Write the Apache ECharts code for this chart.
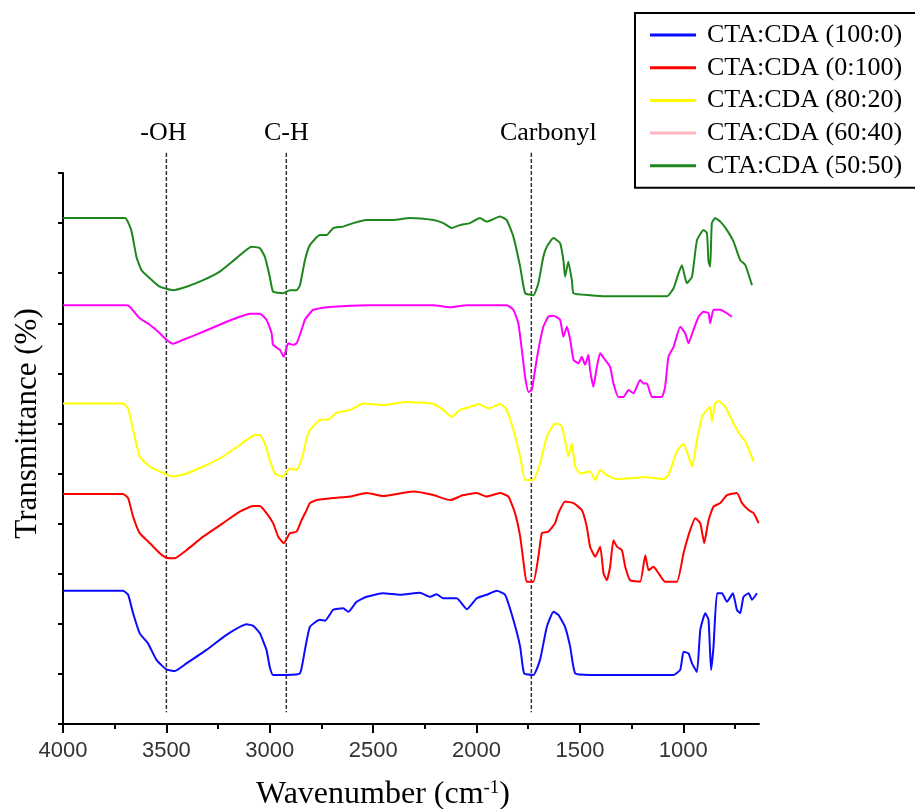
<!DOCTYPE html>
<html>
<head>
<meta charset="utf-8">
<title>FTIR CTA:CDA</title>
<script src="https://cdn.jsdelivr.net/npm/echarts@6/dist/echarts.min.js"></script>
<style>
  html, body { margin: 0; padding: 0; background: #fff; }
  #main { width: 915px; height: 809px; }
</style>
</head>
<body>
<div id="main"></div>
<script>
// [wavenumber (cm-1), transmittance (stacked, no scale shown)]
var cta100 = [[4000,26.6],[3710,26.6],[3685,25.8],[3661,22.1],[3629,18.1],[3589,16.1],[3548,12.8],[3500,10.9],[3459,10.6],[3403,12.1],[3306,14.8],[3209,17.8],[3112,19.9],[3080,19.6],[3048,18.1],[3016,14.8],[3000,11.4],[2984,9.8],[2919,9.8],[2854,10.1],[2830,14.8],[2806,19.4],[2758,20.8],[2733,20.6],[2693,22.8],[2645,23.1],[2620,22.4],[2580,24.4],[2532,25.4],[2451,26.1],[2370,25.8],[2274,26.2],[2225,25.4],[2193,25.9],[2161,25.1],[2096,25.1],[2047,22.9],[1999,25.1],[1951,25.8],[1902,26.6],[1862,25.8],[1822,20.8],[1789,15.4],[1770,10.1],[1725,9.8],[1693,12.8],[1660,19.4],[1628,22.4],[1604,21.8],[1572,19.4],[1547,15.4],[1523,10.1],[1451,9.8],[1047,9.8],[1015,10.8],[999,14.4],[975,14.1],[958,12.1],[934,10.4],[918,18.8],[894,22.1],[878,20.8],[866,10.8],[854,15.4],[837,26.1],[813,26.1],[789,24.4],[760,26.1],[741,22.8],[725,22.1],[709,25.4],[684,26.1],[668,24.8],[644,26.1]];

var cda100 = [[4000,45.9],[3710,45.9],[3685,45.1],[3661,41.4],[3629,38.1],[3580,36.1],[3532,34.1],[3500,33.2],[3459,33.1],[3403,34.7],[3322,37.4],[3226,40.1],[3145,42.4],[3080,43.5],[3048,43.5],[3016,42.1],[2984,40.1],[2959,37.4],[2932,36.1],[2903,38.1],[2870,38.4],[2846,40.7],[2822,42.7],[2806,44.1],[2773,44.7],[2693,45.1],[2612,45.4],[2532,46.1],[2451,45.5],[2306,46.4],[2209,45.7],[2128,44.7],[2064,45.7],[1999,46.1],[1951,45.4],[1886,46.1],[1846,45.4],[1814,42.1],[1789,37.4],[1770,31.4],[1758,28.4],[1725,28.4],[1701,33.4],[1684,38.1],[1653,38.4],[1620,40.1],[1604,42.1],[1572,44.4],[1531,44.1],[1491,42.7],[1467,39.4],[1451,35.4],[1426,33.4],[1402,35.4],[1386,30.1],[1370,28.7],[1354,31.4],[1338,36.7],[1321,35.4],[1297,34.7],[1281,31.4],[1257,28.7],[1209,28.4],[1184,33.7],[1168,30.7],[1144,31.4],[1120,30.1],[1088,28.4],[1031,28.4],[999,34.1],[967,38.7],[942,41.1],[918,40.1],[899,36.1],[878,40.7],[854,43.4],[821,44.1],[789,45.7],[741,46.1],[716,44.1],[684,42.7],[660,42.1],[636,40.1]];

var mix8020 = [[4000,64.0],[3710,64.0],[3685,63.0],[3661,58.7],[3629,53.4],[3580,51.4],[3532,50.4],[3468,49.4],[3403,50.0],[3306,51.7],[3226,53.4],[3145,55.7],[3072,57.7],[3048,57.7],[3024,56.0],[3000,52.7],[2975,50.0],[2938,49.4],[2903,51.0],[2870,50.7],[2854,52.0],[2838,54.0],[2822,57.0],[2806,58.7],[2790,59.4],[2758,60.7],[2717,60.8],[2677,62.1],[2612,62.7],[2548,64.0],[2451,63.7],[2338,64.3],[2209,63.9],[2161,62.7],[2120,61.3],[2080,62.7],[2032,63.3],[1991,63.9],[1943,63.0],[1886,63.9],[1854,62.7],[1822,58.7],[1789,53.4],[1765,48.7],[1725,48.7],[1693,52.0],[1660,57.4],[1628,59.7],[1620,60.0],[1596,59.7],[1588,59.4],[1572,56.7],[1556,53.4],[1539,56.0],[1523,51.4],[1499,50.0],[1451,50.4],[1426,48.7],[1402,50.7],[1370,49.7],[1321,48.9],[1241,49.1],[1193,49.3],[1096,48.9],[1072,49.7],[1031,54.4],[999,56.0],[958,51.4],[934,56.7],[910,61.3],[886,62.7],[870,63.3],[862,60.4],[846,64.0],[830,64.5],[797,63.3],[757,60.0],[725,57.7],[700,56.4],[660,52.4]];

var mix6040 = [[4000,83.6],[3693,83.6],[3677,83.3],[3629,81.0],[3580,79.7],[3532,78.0],[3500,76.7],[3468,75.9],[3419,76.7],[3322,78.3],[3226,80.0],[3145,81.3],[3096,81.9],[3048,81.9],[3016,80.7],[2991,78.0],[2984,75.7],[2951,74.7],[2932,73.3],[2911,76.0],[2887,75.7],[2870,76.0],[2846,78.7],[2830,80.7],[2806,82.0],[2790,82.7],[2693,83.3],[2532,83.6],[2209,83.6],[2128,83.2],[2047,83.6],[1854,83.6],[1822,82.7],[1798,80.0],[1781,74.7],[1765,69.3],[1749,66.3],[1733,66.7],[1717,70.7],[1701,74.7],[1677,79.3],[1653,81.3],[1628,81.5],[1596,80.7],[1580,77.3],[1563,79.3],[1547,76.7],[1531,72.7],[1507,72.0],[1491,73.3],[1475,71.7],[1459,73.7],[1451,70.7],[1435,67.3],[1418,71.3],[1402,74.0],[1378,72.7],[1354,71.3],[1338,68.0],[1314,65.3],[1289,65.3],[1265,66.7],[1241,66.0],[1209,68.7],[1193,68.0],[1176,68.0],[1152,65.3],[1104,65.3],[1088,67.3],[1072,73.3],[1047,75.3],[1015,79.3],[991,78.0],[975,76.0],[951,78.7],[926,81.3],[902,82.3],[878,82.0],[870,80.0],[854,82.7],[821,82.7],[765,81.3]];

var mix5050 = [[4000,101.0],[3700,101.0],[3670,98.6],[3645,93.3],[3620,90.6],[3580,89.0],[3532,87.3],[3468,86.6],[3403,87.3],[3322,88.6],[3242,90.3],[3161,93.0],[3088,95.3],[3048,95.0],[3024,93.3],[3000,89.3],[2984,86.3],[2935,86.0],[2903,86.6],[2870,86.6],[2854,87.6],[2830,92.6],[2806,95.6],[2758,97.6],[2725,97.6],[2693,99.0],[2645,99.3],[2596,100.0],[2532,100.6],[2403,100.6],[2322,101.0],[2209,100.6],[2161,100.0],[2120,99.0],[2080,99.6],[2032,100.0],[1983,101.0],[1951,100.3],[1886,101.3],[1854,100.6],[1822,97.3],[1789,91.3],[1765,86.0],[1725,85.6],[1701,88.0],[1677,93.3],[1660,95.3],[1628,97.0],[1596,96.0],[1580,92.6],[1572,89.3],[1556,92.3],[1539,88.6],[1531,86.0],[1451,85.6],[1370,85.4],[1079,85.4],[1047,87.0],[1023,90.0],[1007,91.6],[983,88.0],[958,89.3],[934,96.6],[902,98.6],[886,98.0],[878,92.3],[870,91.3],[862,100.0],[846,101.0],[821,100.3],[789,98.6],[757,96.3],[725,92.6],[700,91.6],[668,87.6]];

var seriesNames = ['CTA:CDA (100:0)', 'CTA:CDA (0:100)', 'CTA:CDA (80:20)', 'CTA:CDA (60:40)', 'CTA:CDA (50:50)'];
var seriesData = [cta100, cda100, mix8020, mix6040, mix5050];
var lineColors = ['#0b0bff', '#ff0000', '#ffff00', '#ff00ff', '#1d871d'];
var legendColors = ['#0b0bff', '#ff0000', '#ffff00', '#ffb6c1', '#1d871d'];

// band guides
var bandNames = ['-OH', 'C-H', 'Carbonyl'];
var bandWavenumbers = [3500, 2920, 1735];
var bandTop = 114;
var bandBottom = 2.4;
var bandLabelShift = [-3, 0, 17];

var xMajorTicks = [4000, 3500, 3000, 2500, 2000, 1500, 1000];
var xMinorTicks = [3750, 3250, 2750, 2250, 1750, 1250, 750];
var xMin = 634, xMax = 4000;

var serif = '"Liberation Serif", "Times New Roman", serif';
var sans = '"Liberation Sans", Arial, sans-serif';

var myChart = echarts.init(document.getElementById('main'));

var series = [];
for (var i = 0; i < seriesData.length; i++) {
	series.push({
		name: seriesNames[i],
		type: 'line',
		data: seriesData[i],
		showSymbol: false,
		symbol: 'none',
		smooth: 0.15,
		lineStyle: { color: lineColors[i], width: 2 },
		itemStyle: { color: lineColors[i] },
		z: 3
	});
}
for (var j = 0; j < bandNames.length; j++) {
	series.push({
		name: bandNames[j],
		type: 'line',
		xAxisIndex: 2,
		yAxisIndex: 1,
		symbol: 'circle',
		symbolSize: 1,
		showSymbol: true,
		itemStyle: { color: '#333' },
		lineStyle: { color: '#333', width: 1.5, type: [4, 2] },
		data: [
			{
				value: [bandWavenumbers[j], bandTop],
				label: {
					show: true,
					position: 'top',
					distance: 6,
					offset: [bandLabelShift[j], 0],
					formatter: bandNames[j],
					fontFamily: serif,
					fontSize: 26,
					color: '#000'
				}
			},
			[bandWavenumbers[j], bandBottom]
		],
		z: 2
	});
}

var option = {
	animation: false,
	backgroundColor: '#fff',
	grid: [
		{ left: 63, right: 156, top: 173, bottom: 85, outerBoundsMode: 'none' },
		{ left: 63, right: 156, top: 123, bottom: 85, outerBoundsMode: 'none' }
	],
	legend: {
		orient: 'vertical',
		left: 635,
		top: 13,
		padding: [7, 40, 7, 15],
		itemGap: 2.7,
		itemWidth: 46,
		itemHeight: 3,
		icon: 'rect',
		borderColor: '#000',
		borderWidth: 2,
		textStyle: { fontFamily: serif, fontSize: 26, color: '#000', lineHeight: 30, padding: [0, 0, 0, 6] },
		data: seriesNames.map(function(n, k) {
			return { name: n, itemStyle: { color: legendColors[k] } };
		})
	},
	xAxis: [
		{
			gridIndex: 0,
			type: 'value',
			inverse: true,
			min: xMin,
			max: xMax,
			position: 'bottom',
			axisLine: { lineStyle: { color: '#000', width: 2 } },
			axisTick: { show: true, customValues: xMajorTicks, length: 9, lineStyle: { color: '#000', width: 2 } },
			axisLabel: {
				customValues: xMajorTicks,
				formatter: function(v) { return String(v); },
				fontFamily: sans, fontSize: 22, color: '#333', margin: 16
			},
			splitLine: { show: false },
			name: 'Wavenumber (cm{sup|-1})',
			nameLocation: 'middle',
			nameGap: 55,
			nameTextStyle: {
				fontFamily: serif, fontSize: 32, color: '#000', padding: [0, 56, 0, 0],
				rich: { sup: { fontFamily: serif, fontSize: 19, color: '#000', verticalAlign: 'top', lineHeight: 14 } }
			}
		},
		{
			gridIndex: 0,
			type: 'value',
			inverse: true,
			min: xMin,
			max: xMax,
			position: 'bottom',
			axisLine: { show: false },
			axisTick: { show: true, customValues: xMinorTicks, length: 5, lineStyle: { color: '#000', width: 2 } },
			axisLabel: { show: false },
			splitLine: { show: false }
		},
		{
			gridIndex: 1,
			type: 'value',
			inverse: true,
			min: xMin,
			max: xMax,
			show: false
		}
	],
	yAxis: [
		{
			gridIndex: 0,
			type: 'value',
			min: 0,
			max: 110,
			interval: 10,
			axisLine: { show: true, lineStyle: { color: '#000', width: 2 } },
			axisTick: { show: true, length: 5, lineStyle: { color: '#000', width: 2 } },
			axisLabel: { show: false },
			splitLine: { show: false }
		},
		{
			gridIndex: 1,
			type: 'value',
			min: 0,
			max: 120,
			axisLine: { show: false },
			axisTick: { show: false },
			axisLabel: { show: false },
			splitLine: { show: false },
			name: 'Transmittance (%)',
			nameLocation: 'middle',
			nameGap: 20,
			nameTextStyle: { fontFamily: serif, fontSize: 31, color: '#000' }
		}
	],
	series: series
};

myChart.setOption(option);
</script>
</body>
</html>
